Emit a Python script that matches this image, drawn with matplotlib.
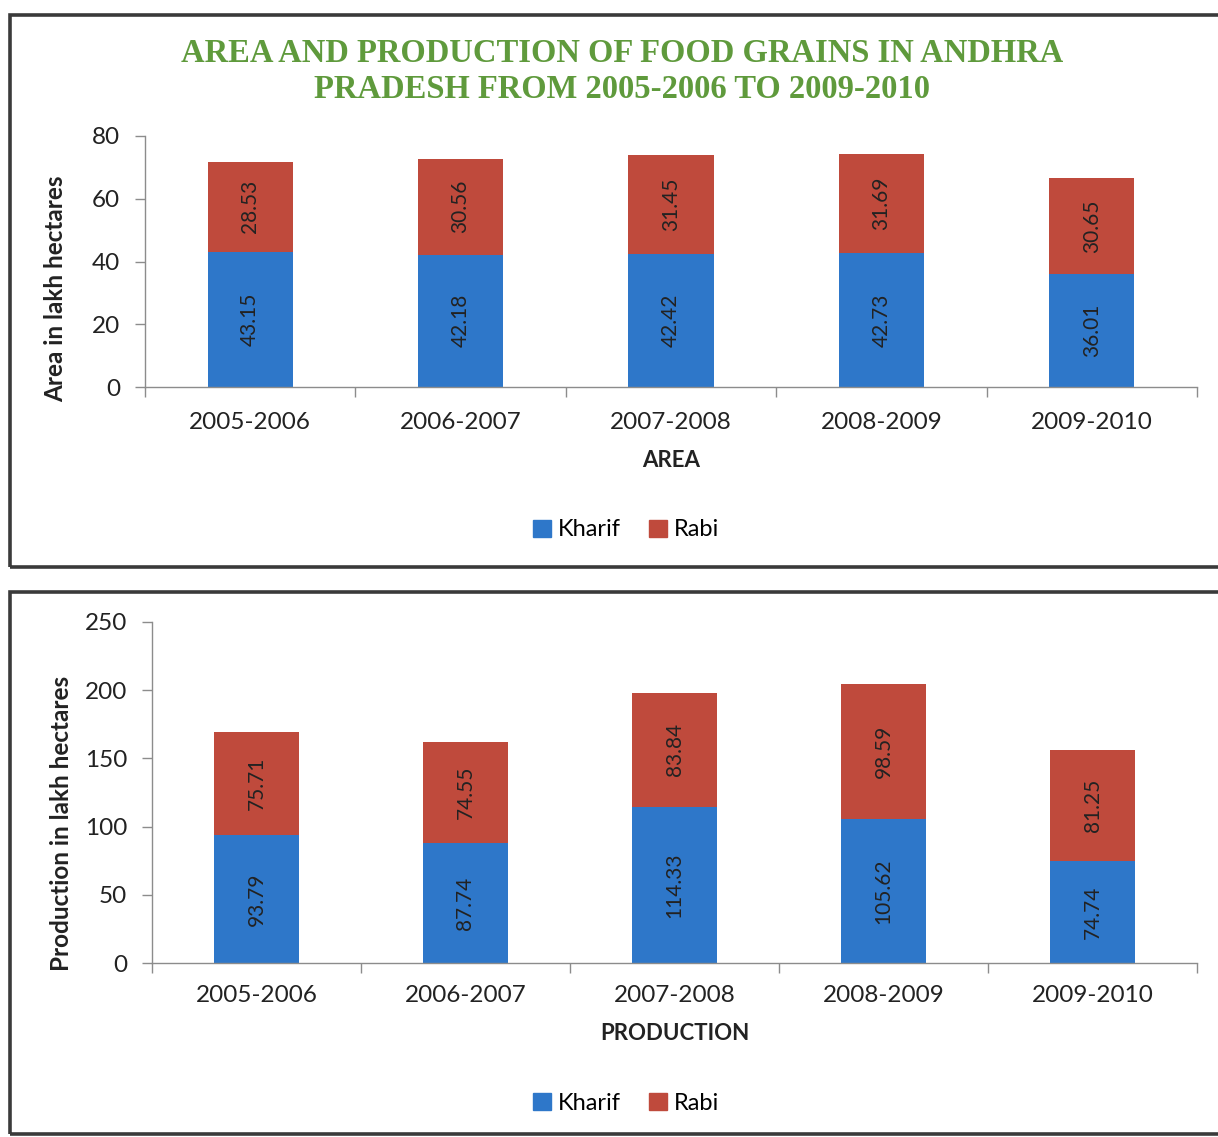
import matplotlib
matplotlib.use("Agg")
import matplotlib.pyplot as plt
from matplotlib.patches import Rectangle, Patch

years = ["2005-2006", "2006-2007", "2007-2008", "2008-2009", "2009-2010"]
area_kharif = [43.15, 42.18, 42.42, 42.73, 36.01]
area_rabi = [28.53, 30.56, 31.45, 31.69, 30.65]
prod_kharif = [93.79, 87.74, 114.33, 105.62, 74.74]
prod_rabi = [75.71, 74.55, 83.84, 98.59, 81.25]

BLUE = "#2e77c9"
RED = "#bf4a3c"
GRID = "#8c8c8c"
TEXT = "#222222"
FONT = ["Lato", "DejaVu Sans"]

W, H = 1218, 1137
fig = plt.figure(figsize=(W / 100, H / 100), dpi=100)
fig.patch.set_facecolor("white")


def fx(px):
    return px / W


def fy(py):
    return 1 - py / H


# Framing boxes around each chart
for (x0, y0, x1, y1) in [(10, 15, 1230, 567), (10, 592, 1230, 1134)]:
    fig.add_artist(Rectangle((fx(x0), fy(y1)), fx(x1 - x0), (y1 - y0) / H,
                             transform=fig.transFigure, fill=False,
                             edgecolor="#3a3a3a", linewidth=2.6, zorder=0))

title_kw = dict(ha="center", va="center", fontsize=23.5, fontweight="bold",
                family="Liberation Serif", color="#5f9a3c")
fig.text(fx(622), fy(53), "AREA AND PRODUCTION OF FOOD GRAINS IN ANDHRA", **title_kw)
fig.text(fx(622), fy(89), "PRADESH FROM 2005-2006 TO 2009-2010", **title_kw)


def draw_panel(rect, kharif, rabi, ymax, step, ylabel, xlabel, legend_y,
               tick_pad, ylabel_pos):
    ax = fig.add_axes(rect)
    x = list(range(len(years)))
    ax.bar(x, kharif, width=0.405, color=BLUE, zorder=2)
    ax.bar(x, rabi, width=0.405, bottom=kharif, color=RED, zorder=2)
    for i in x:
        ax.text(i, kharif[i] / 2, f"{kharif[i]:.2f}", rotation=90,
                ha="center", va="center", fontsize=15, color=TEXT, family=FONT)
        ax.text(i, kharif[i] + rabi[i] / 2, f"{rabi[i]:.2f}", rotation=90,
                ha="center", va="center", fontsize=15, color=TEXT, family=FONT)
    ax.set_xlim(-0.5, len(years) - 0.5)
    ax.set_ylim(0, ymax)
    ax.set_yticks(range(0, ymax + 1, step))
    ax.set_xticks([i - 0.5 for i in range(len(years) + 1)], minor=False)
    ax.set_xticklabels([])
    ax.set_xticks(x, minor=True)
    ax.set_xticklabels(years, minor=True)
    ax.tick_params(axis="x", which="minor", length=0, pad=tick_pad,
                   labelsize=17.5, labelcolor=TEXT)
    ax.tick_params(axis="x", which="major", length=7, color=GRID, width=1)
    ax.tick_params(axis="y", length=7, color=GRID, width=1, labelsize=17.5,
                   labelcolor=TEXT, pad=11)
    for lab in ax.get_xticklabels(minor=True) + ax.get_yticklabels():
        lab.set_family(FONT)
    for s in ("top", "right"):
        ax.spines[s].set_visible(False)
    for s in ("left", "bottom"):
        ax.spines[s].set_color(GRID)
        ax.spines[s].set_linewidth(1)
    ax.set_ylabel(ylabel, fontsize=17.5, fontweight="bold", color=TEXT,
                  family=FONT)
    ax.yaxis.set_label_coords(*ylabel_pos)
    ax.set_xlabel(xlabel, fontsize=16, fontweight="bold", color=TEXT,
                  family=FONT, labelpad=12)
    handles = [Patch(color=BLUE, label="Kharif"), Patch(color=RED, label="Rabi")]
    fig.legend(handles=handles, loc="center", bbox_to_anchor=(fx(626), fy(legend_y)),
               ncol=2, frameon=False, handlelength=0.75, handleheight=0.75,
               handletextpad=0.3, columnspacing=1.2,
               prop={"family": FONT, "size": 17})
    return ax


draw_panel([fx(145), fy(387), fx(1197) - fx(145), (387 - 136) / H],
           area_kharif, area_rabi, 80, 20, "Area in lakh hectares", "AREA", 530,
           18, (-0.074, 0.39))
draw_panel([fx(152), fy(963), fx(1197) - fx(152), (963 - 622) / H],
           prod_kharif, prod_rabi, 250, 50, "Production in lakh hectares",
           "PRODUCTION", 1103, 16, (-0.076, 0.41))

fig.savefig("out.png", dpi=100, facecolor="white")
